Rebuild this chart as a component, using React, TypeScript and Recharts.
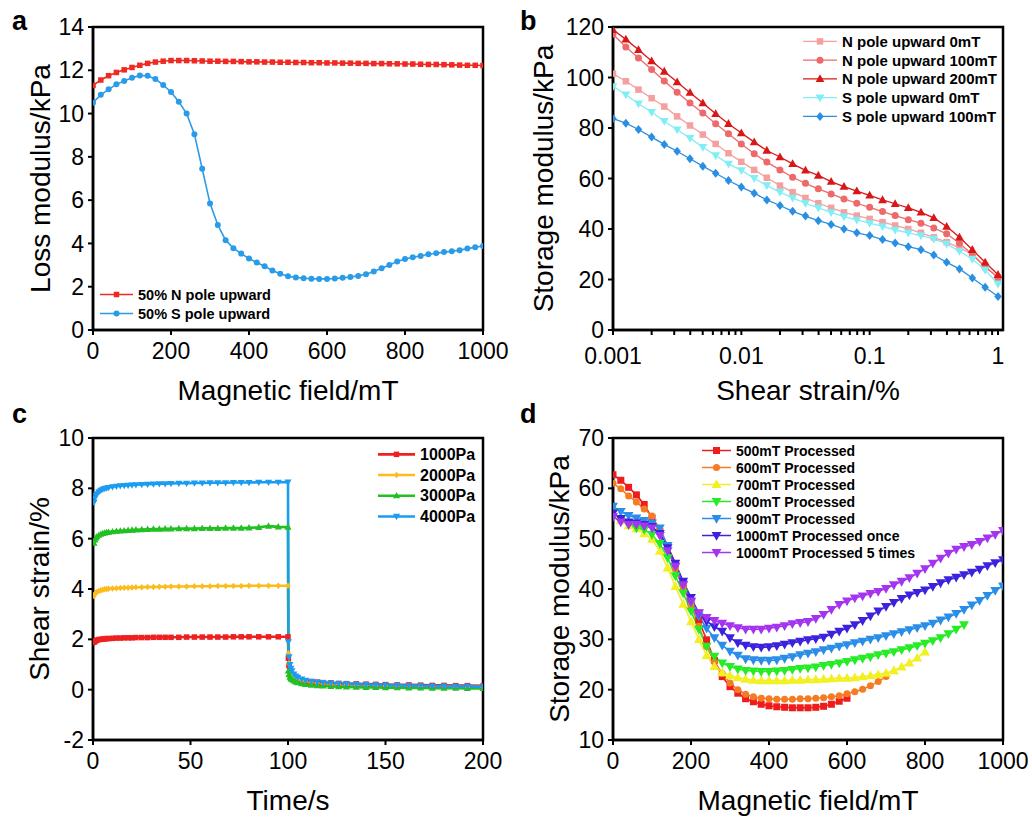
import { LineChart, Line, XAxis, YAxis, ReferenceArea, Legend } from 'recharts'

const FONT = '"Liberation Sans", Arial, Helvetica, sans-serif'

// ---------- a: loss modulus vs magnetic field ----------
const FIELD = [
  0, 20, 40, 60, 80, 100, 120, 140, 160, 180, 200, 220, 240, 260, 280, 300, 320, 340, 360, 380, 400,
  420, 440, 460, 480, 500, 520, 540, 560, 580, 600, 620, 640, 660, 680, 700, 720, 740, 760, 780, 800,
  820, 840, 860, 880, 900, 920, 940, 960, 980, 1000,
]
const LOSS_N_UP = [
  11.3, 11.55, 11.75, 11.9, 12.02, 12.13, 12.23, 12.32, 12.38, 12.42, 12.45, 12.45, 12.45, 12.44,
  12.43, 12.42, 12.42, 12.41, 12.41, 12.4, 12.39, 12.39, 12.38, 12.38, 12.37, 12.37, 12.36, 12.36,
  12.35, 12.35, 12.34, 12.34, 12.33, 12.33, 12.32, 12.32, 12.31, 12.31, 12.3, 12.3, 12.29, 12.29,
  12.28, 12.27, 12.27, 12.26, 12.25, 12.24, 12.23, 12.23, 12.22,
]
const LOSS_S_UP = [
  10.5, 10.87, 11.12, 11.35, 11.5, 11.65, 11.76, 11.75, 11.6, 11.32, 11.0, 10.55, 10.0, 9.05, 7.45,
  5.85, 4.85, 4.15, 3.78, 3.53, 3.3, 3.12, 2.95, 2.75, 2.6, 2.48, 2.43, 2.39, 2.37, 2.36, 2.36, 2.38,
  2.41, 2.45, 2.5, 2.58, 2.7, 2.85, 3.0, 3.17, 3.28, 3.36, 3.42, 3.5, 3.55, 3.6, 3.64, 3.69, 3.76,
  3.82, 3.88,
]

// ---------- b: storage modulus vs shear strain (log) ----------
const STRAIN = [
  0.001, 0.00126, 0.00158, 0.002, 0.00251, 0.00316, 0.00398, 0.00501, 0.00631, 0.00794, 0.01, 0.0126,
  0.0158, 0.02, 0.0251, 0.0316, 0.0398, 0.0501, 0.0631, 0.0794, 0.1, 0.126, 0.158, 0.2, 0.251, 0.316,
  0.398, 0.501, 0.631, 0.794, 1.0,
]
const G_N_0 = [
  101.5, 98.5, 95.2, 91.8, 88.5, 84.6, 81.0, 77.4, 73.7, 70.0, 66.6, 63.4, 60.3, 57.2, 54.6, 52.3,
  50.2, 48.4, 46.6, 45.3, 44.0, 42.7, 41.4, 40.0, 38.5, 36.7, 34.8, 32.5, 29.9, 25.5, 20.6,
]
const G_N_100 = [
  117.1, 112.1, 107.7, 103.2, 98.6, 94.2, 89.9, 85.9, 81.7, 77.7, 73.7, 69.8, 66.5, 63.4, 60.5, 58.1,
  55.9, 53.9, 51.9, 50.2, 48.6, 46.9, 45.3, 43.7, 42.3, 40.4, 38.1, 34.4, 29.9, 24.8, 20.9,
]
const G_N_200 = [
  118.9, 115.1, 111.0, 106.5, 102.4, 98.2, 94.0, 89.9, 85.6, 81.7, 78.0, 74.4, 71.1, 68.5, 65.8, 63.2,
  61.2, 58.8, 56.8, 55.0, 53.3, 51.5, 50.0, 48.4, 46.6, 44.4, 41.0, 36.7, 31.8, 26.8, 21.9,
]
const G_S_0 = [
  96.5, 93.2, 89.6, 86.3, 82.7, 79.3, 76.0, 72.4, 69.1, 65.8, 63.2, 60.1, 57.2, 54.6, 52.3, 50.2, 48.4,
  46.6, 44.9, 43.6, 42.3, 41.0, 39.6, 38.5, 37.4, 36.1, 34.1, 31.2, 28.1, 23.8, 18.2,
]
const G_S_100 = [
  83.7, 81.9, 79.4, 76.4, 73.5, 70.8, 67.8, 64.9, 62.1, 59.2, 56.6, 54.2, 51.5, 49.3, 47.0, 45.1, 43.3,
  41.8, 40.0, 38.5, 37.4, 35.8, 34.5, 33.0, 31.8, 29.7, 26.8, 24.2, 20.6, 16.9, 13.3,
]
const STRAIN_TICKS = [
  0.001, 0.002, 0.003, 0.004, 0.005, 0.006, 0.007, 0.008, 0.009, 0.01, 0.02, 0.03, 0.04, 0.05, 0.06,
  0.07, 0.08, 0.09, 0.1, 0.2, 0.3, 0.4, 0.5, 0.6, 0.7, 0.8, 0.9, 1,
]
const STRAIN_LABELS = ['0.001', '0.01', '0.1', '1']

// ---------- c: creep / recovery ----------
const TIME = [
  0.5, 1, 1.5, 2, 3, 4, 5, 6, 7, 8, 10, 12, 14, 16, 18, 20, 22, 25, 28, 31, 34, 37, 40, 44, 48, 52,
  56, 60, 64, 68, 72, 76, 80, 85, 90, 95, 100, 100.2, 100.5, 101, 101.5, 102, 103, 104, 105, 107, 109,
  112, 115, 118, 122, 126, 130, 135, 140, 145, 150, 156, 162, 168, 174, 180, 186, 192, 200,
]
const CREEP_1000 = [
  1.88, 1.92, 1.95, 1.97, 1.99, 2.0, 2.01, 2.02, 2.03, 2.03, 2.04, 2.05, 2.05, 2.06, 2.06, 2.06, 2.07,
  2.07, 2.07, 2.08, 2.08, 2.08, 2.08, 2.08, 2.09, 2.09, 2.09, 2.09, 2.09, 2.09, 2.1, 2.1, 2.1, 2.1,
  2.1, 2.1, 2.1,
  1.25, 0.95, 0.78, 0.68, 0.6, 0.52, 0.47, 0.43, 0.38, 0.35, 0.32, 0.3, 0.28, 0.27, 0.25, 0.24, 0.23,
  0.22, 0.21, 0.2, 0.19, 0.19, 0.18, 0.17, 0.17, 0.16, 0.16, 0.15,
]
const CREEP_2000 = [
  3.72, 3.8, 3.85, 3.88, 3.92, 3.95, 3.97, 3.99, 4.0, 4.01, 4.02, 4.03, 4.04, 4.05, 4.05, 4.06, 4.07,
  4.07, 4.08, 4.08, 4.09, 4.09, 4.1, 4.1, 4.1, 4.11, 4.11, 4.11, 4.12, 4.12, 4.12, 4.12, 4.13, 4.13,
  4.13, 4.13, 4.13,
  1.45, 1.05, 0.82, 0.7, 0.62, 0.53, 0.47, 0.43, 0.37, 0.33, 0.29, 0.26, 0.24, 0.22, 0.21, 0.2, 0.18,
  0.17, 0.16, 0.15, 0.14, 0.14, 0.13, 0.12, 0.12, 0.11, 0.11, 0.1,
]
const CREEP_3000 = [
  5.82, 5.95, 6.03, 6.08, 6.14, 6.18, 6.21, 6.23, 6.25, 6.26, 6.28, 6.3, 6.31, 6.32, 6.33, 6.34, 6.35,
  6.36, 6.37, 6.38, 6.38, 6.39, 6.39, 6.4, 6.4, 6.4, 6.41, 6.41, 6.41, 6.42, 6.42, 6.42, 6.43, 6.45,
  6.5, 6.47, 6.46,
  0.75, 0.6, 0.5, 0.44, 0.4, 0.35, 0.31, 0.28, 0.24, 0.21, 0.18, 0.16, 0.15, 0.13, 0.12, 0.11, 0.1,
  0.09, 0.09, 0.08, 0.08, 0.07, 0.07, 0.06, 0.06, 0.06, 0.05, 0.05,
]
const CREEP_4000 = [
  7.45, 7.62, 7.72, 7.78, 7.86, 7.92, 7.96, 7.99, 8.01, 8.03, 8.06, 8.08, 8.1, 8.11, 8.12, 8.13, 8.14,
  8.15, 8.16, 8.17, 8.18, 8.18, 8.19, 8.2, 8.2, 8.21, 8.21, 8.22, 8.22, 8.22, 8.23, 8.23, 8.23, 8.24,
  8.24, 8.24, 8.25,
  1.9, 1.3, 1.0, 0.85, 0.75, 0.62, 0.54, 0.49, 0.42, 0.37, 0.33, 0.3, 0.28, 0.26, 0.24, 0.23, 0.21,
  0.2, 0.19, 0.18, 0.17, 0.16, 0.15, 0.14, 0.14, 0.13, 0.13, 0.12,
]

// ---------- d: storage modulus after processing ----------
const G_500 = [
  62.7, 61.6, 60.2, 58.7, 56.8, 54.1, 51.5, 48.6, 45.0, 41.2, 37.5, 33.8, 29.9, 25.8, 22.6, 20.6, 19.3,
  18.2, 17.6, 17.1, 16.8, 16.6, 16.5, 16.4, 16.4, 16.4, 16.5, 16.7, 17.1, 17.7, 18.3,
]
const G_600 = [
  61.0, 59.9, 58.5, 57.3, 55.9, 54.5, 51.8, 48.0, 44.0, 40.2, 36.8, 32.6, 28.6, 25.5, 23.2, 21.3, 20.0,
  19.1, 18.6, 18.3, 18.2, 18.1, 18.1, 18.1, 18.2, 18.2, 18.3, 18.4, 18.6, 18.8, 19.2, 19.6, 20.1, 20.8,
  21.6, 22.6,
]
const G_700 = [
  55.0, 53.6, 52.6, 52.0, 51.0, 49.9, 47.5, 44.2, 40.5, 37.0, 33.5, 30.0, 26.8, 24.6, 23.4, 22.8, 22.4,
  22.1, 21.9, 21.8, 21.8, 21.8, 21.8, 21.9, 21.9, 22.0, 22.0, 22.1, 22.2, 22.3, 22.3, 22.4, 22.6, 22.8,
  23.0, 23.3, 23.8, 24.5, 25.3, 26.3, 27.5,
]
const G_800 = [
  55.2, 53.8, 52.8, 52.1, 51.8, 50.8, 49.0, 46.2, 42.6, 39.2, 35.6, 32.0, 28.6, 26.6, 25.3, 24.6, 24.1,
  23.8, 23.7, 23.6, 23.6, 23.7, 23.8, 24.0, 24.2, 24.3, 24.5, 24.8, 25.0, 25.3, 25.6, 25.9, 26.2, 26.5,
  26.9, 27.2, 27.5, 27.9, 28.3, 28.7, 29.2, 29.7, 30.3, 31.1, 32.0, 32.9,
]
const G_900 = [
  56.4, 55.4, 54.6, 54.1, 53.6, 53.1, 52.1, 48.6, 44.5, 40.9, 37.4, 34.6, 32.2, 30.3, 28.8, 27.6, 26.8,
  26.1, 25.9, 25.8, 25.8, 25.9, 26.2, 26.5, 26.9, 27.2, 27.5, 27.9, 28.2, 28.6, 28.9, 29.3, 29.6, 30.0,
  30.3, 30.7, 31.1, 31.5, 31.9, 32.3, 32.7, 33.2, 33.8, 34.4, 35.1, 35.9, 36.8, 37.7, 38.7, 39.7, 40.6,
]
const G_1000_ONCE = [
  55.1, 54.0, 53.3, 53.1, 52.8, 52.4, 51.0, 48.2, 45.1, 41.5, 38.3, 35.2, 33.6, 32.5, 31.6, 30.3, 29.3,
  28.8, 28.5, 28.4, 28.5, 28.7, 29.0, 29.3, 29.6, 29.9, 30.1, 30.4, 31.0, 31.6, 32.2, 32.9, 33.7, 34.6,
  35.6, 36.5, 37.3, 38.1, 38.8, 39.3, 39.8, 40.5, 41.2, 41.8, 42.3, 42.8, 43.3, 43.9, 44.6, 45.2, 45.8,
]
const G_1000_5X = [
  54.4, 53.3, 52.8, 52.8, 52.5, 52.1, 50.6, 47.6, 44.5, 40.8, 37.6, 35.2, 34.3, 33.7, 33.2, 32.7, 32.3,
  32.0, 32.0, 32.0, 32.2, 32.4, 32.7, 33.1, 33.3, 33.5, 34.1, 34.9, 35.9, 36.9, 37.6, 38.2, 38.6, 39.1,
  39.5, 40.1, 40.8, 41.5, 42.2, 43.1, 44.0, 45.1, 46.1, 47.1, 47.9, 48.4, 48.8, 49.4, 50.1, 50.8, 51.6,
]

type Shape = 'square' | 'circle' | 'triangle' | 'triangleDown' | 'diamond'

interface Series {
  key: string
  name: string
  values: number[]
  color: string
  shape: Shape
  size: number
  width: number
}

interface LegendCfg {
  left: number
  top: number
  lineLen: number
  rowH: number
  fontSize: number
  lineWidth: number
}

function Marker({ cx, cy, shape, size, fill }: { cx: any; cy: any; shape: Shape; size: number; fill: string }) {
  if (cx == null || cy == null || Number.isNaN(cx) || Number.isNaN(cy)) return null
  const h = size / 2
  if (shape === 'square') return <rect x={cx - h} y={cy - h} width={size} height={size} fill={fill} />
  if (shape === 'circle') return <circle cx={cx} cy={cy} r={h} fill={fill} />
  if (shape === 'diamond')
    return <polygon points={`${cx},${cy - h * 1.2} ${cx + h},${cy} ${cx},${cy + h * 1.2} ${cx - h},${cy}`} fill={fill} />
  if (shape === 'triangle')
    return (
      <polygon points={`${cx},${cy - h * 1.15} ${cx + h * 1.1},${cy + h * 0.8} ${cx - h * 1.1},${cy + h * 0.8}`} fill={fill} />
    )
  return <polygon points={`${cx},${cy + h * 1.15} ${cx + h * 1.1},${cy - h * 0.8} ${cx - h * 1.1},${cy - h * 0.8}`} fill={fill} />
}

const makeDot = (s: Series) => (p: any) => (
  <Marker key={`${s.key}-${p.index}`} cx={p.cx} cy={p.cy} shape={s.shape} size={s.size} fill={s.color} />
)

function LegendBox({ items, cfg }: { items: Series[]; cfg: LegendCfg }) {
  return (
    <svg width={260} height={cfg.rowH * items.length} style={{ display: 'block', overflow: 'visible' }}>
      {items.map((it, i) => {
        const y = cfg.rowH * i + cfg.rowH / 2
        return (
          <g key={it.key}>
            <line x1={0} x2={cfg.lineLen} y1={y} y2={y} stroke={it.color} strokeWidth={cfg.lineWidth} />
            <Marker cx={cfg.lineLen / 2} cy={y} shape={it.shape} size={it.size} fill={it.color} />
            <text
              x={cfg.lineLen + 5}
              y={y}
              dominantBaseline="central"
              fontSize={cfg.fontSize}
              fontWeight="bold"
              fontFamily={FONT}
              fill="#000"
            >
              {it.name}
            </text>
          </g>
        )
      })}
    </svg>
  )
}

function buildRows(xs: number[], series: Series[]) {
  return xs.map((x, i) => {
    const row: Record<string, number> = { x }
    series.forEach((s) => {
      if (i < s.values.length) row[s.key] = s.values[i]
    })
    return row
  })
}

interface PanelProps {
  letter: string
  left: number
  top: number
  letterLeft: number
  letterTop: number
  marginTop: number
  xs: number[]
  series: Series[]
  xDomain: [number, number]
  xTicks: number[]
  xScale?: 'linear' | 'log'
  xFormat?: (v: number) => string
  xTickMargin?: number
  yDomain: [number, number]
  yTicks: number[]
  xLabel: string
  yLabel: string
  yLabelX: number
  legend: LegendCfg
}

function Panel(p: PanelProps) {
  const data = buildRows(p.xs, p.series)
  return (
    <div style={{ position: 'absolute', left: p.left, top: p.top, width: 520, height: 410 }}>
      <LineChart width={520} height={410} data={data} margin={{ top: p.marginTop, right: 37, bottom: 0, left: 0 }}>
        <XAxis
          dataKey="x"
          type="number"
          scale={p.xScale ?? 'linear'}
          domain={p.xDomain}
          ticks={p.xTicks}
          interval={0}
          allowDataOverflow
          tickFormatter={p.xFormat}
          height={80}
          tickSize={5}
          tickMargin={p.xTickMargin ?? 8}
          axisLine={{ stroke: '#000', strokeWidth: 2.5 }}
          tickLine={{ stroke: '#000', strokeWidth: 2 }}
          tick={{ fill: '#000', fontSize: 23 }}
          label={{ value: p.xLabel, position: 'insideBottom', offset: 10, fontSize: 28, fill: '#000' }}
        />
        <YAxis
          type="number"
          domain={p.yDomain}
          ticks={p.yTicks}
          interval={0}
          allowDataOverflow
          width={93}
          tickSize={5}
          tickMargin={4}
          axisLine={{ stroke: '#000', strokeWidth: 2.5 }}
          tickLine={{ stroke: '#000', strokeWidth: 2 }}
          tick={{ fill: '#000', fontSize: 23 }}
          label={{
            value: p.yLabel,
            angle: -90,
            position: 'insideLeft',
            offset: p.yLabelX,
            fontSize: 28,
            fill: '#000',
            style: { textAnchor: 'middle' },
          }}
        />
        <ReferenceArea
          x1={p.xDomain[0]}
          x2={p.xDomain[1]}
          y1={p.yDomain[0]}
          y2={p.yDomain[1]}
          fill="none"
          stroke="#000"
          strokeWidth={2.5}
          ifOverflow="visible"
        />
        {p.series.map((s) => (
          <Line
            key={s.key}
            dataKey={s.key}
            type="linear"
            stroke={s.color}
            strokeWidth={s.width}
            dot={makeDot(s)}
            activeDot={false}
            isAnimationActive={false}
          />
        ))}
        <Legend
          layout="horizontal"
          verticalAlign="middle"
          align="center"
          wrapperStyle={{ left: p.legend.left, top: p.legend.top, width: 260, height: 'auto' }}
          content={() => <LegendBox items={p.series} cfg={p.legend} />}
        />
      </LineChart>
      <div
        style={{
          position: 'absolute',
          left: p.letterLeft,
          top: p.letterTop,
          fontSize: 27,
          lineHeight: '27px',
          fontWeight: 'bold',
          color: '#000',
        }}
      >
        {p.letter}
      </div>
    </div>
  )
}

const seriesA: Series[] = [
  { key: 'n', name: '50% N pole upward', values: LOSS_N_UP, color: '#ee2a22', shape: 'square', size: 5.5, width: 1.6 },
  { key: 's', name: '50% S pole upward', values: LOSS_S_UP, color: '#2a9be8', shape: 'circle', size: 6, width: 1.6 },
]

const seriesB: Series[] = [
  { key: 'n0', name: 'N pole upward 0mT', values: G_N_0, color: '#f5a0a0', shape: 'square', size: 6.5, width: 1.3 },
  { key: 'n100', name: 'N pole upward 100mT', values: G_N_100, color: '#ee6a6a', shape: 'circle', size: 7, width: 1.3 },
  { key: 'n200', name: 'N pole upward 200mT', values: G_N_200, color: '#d81818', shape: 'triangle', size: 8, width: 1.3 },
  { key: 's0', name: 'S pole upward 0mT', values: G_S_0, color: '#80eef5', shape: 'triangleDown', size: 8, width: 1.3 },
  { key: 's100', name: 'S pole upward 100mT', values: G_S_100, color: '#2a8fe2', shape: 'diamond', size: 7.5, width: 1.3 },
]

const seriesC: Series[] = [
  { key: 'p1', name: '1000Pa', values: CREEP_1000, color: '#ee2020', shape: 'square', size: 5.5, width: 2.6 },
  { key: 'p2', name: '2000Pa', values: CREEP_2000, color: '#fbbc1c', shape: 'diamond', size: 5.5, width: 2.6 },
  { key: 'p3', name: '3000Pa', values: CREEP_3000, color: '#22c022', shape: 'triangle', size: 6.5, width: 2.6 },
  { key: 'p4', name: '4000Pa', values: CREEP_4000, color: '#1a9cf0', shape: 'triangleDown', size: 6.5, width: 2.6 },
]

const seriesD: Series[] = [
  { key: 'm500', name: '500mT Processed', values: G_500, color: '#ee1c1c', shape: 'square', size: 7, width: 1.6 },
  { key: 'm600', name: '600mT Processed', values: G_600, color: '#f57c22', shape: 'circle', size: 7, width: 1.6 },
  { key: 'm700', name: '700mT Processed', values: G_700, color: '#f2ef22', shape: 'triangle', size: 9, width: 1.6 },
  { key: 'm800', name: '800mT Processed', values: G_800, color: '#26ec26', shape: 'triangleDown', size: 9, width: 1.6 },
  { key: 'm900', name: '900mT Processed', values: G_900, color: '#2a8ee8', shape: 'triangleDown', size: 9, width: 1.6 },
  { key: 'm1000', name: '1000mT Processed once', values: G_1000_ONCE, color: '#3c22dc', shape: 'triangleDown', size: 9, width: 1.6 },
  { key: 'm1000x5', name: '1000mT Processed 5 times', values: G_1000_5X, color: '#a534f0', shape: 'triangleDown', size: 9, width: 1.6 },
]

export default function App() {
  return (
    <div
      style={{
        position: 'absolute',
        left: 0,
        top: 0,
        width: 1032,
        height: 818,
        background: '#fff',
        overflow: 'hidden',
        fontFamily: FONT,
      }}
    >
      <Panel
        letter="a"
        left={0}
        top={0}
        letterLeft={12}
        letterTop={8}
        marginTop={27}
        xs={FIELD}
        series={seriesA}
        xDomain={[0, 1000]}
        xTicks={[0, 200, 400, 600, 800, 1000]}
        yDomain={[0, 14]}
        yTicks={[0, 2, 4, 6, 8, 10, 12, 14]}
        xLabel="Magnetic field/mT"
        yLabel="Loss modulus/kPa"
        yLabelX={40}
        legend={{ left: 100, top: 284.5, lineLen: 33, rowH: 19, fontSize: 14.5, lineWidth: 1.6 }}
      />
      <Panel
        letter="b"
        left={520}
        top={0}
        letterLeft={0}
        letterTop={8}
        marginTop={27}
        xs={STRAIN}
        series={seriesB}
        xDomain={[0.001, 1.094]}
        xTicks={STRAIN_TICKS}
        xScale="log"
        xTickMargin={13}
        xFormat={(v: number) => {
          const s = String(v)
          return STRAIN_LABELS.includes(s) ? s : ''
        }}
        yDomain={[0, 120]}
        yTicks={[0, 20, 40, 60, 80, 100, 120]}
        xLabel="Shear strain/%"
        yLabel="Storage modulus/kPa"
        yLabelX={23}
        legend={{ left: 283, top: 32.3, lineLen: 34, rowH: 18.75, fontSize: 15, lineWidth: 1.3 }}
      />
      <Panel
        letter="c"
        left={0}
        top={410}
        letterLeft={12}
        letterTop={-9}
        marginTop={28}
        xs={TIME}
        series={seriesC}
        xDomain={[0, 200]}
        xTicks={[0, 50, 100, 150, 200]}
        yDomain={[-2, 10]}
        yTicks={[-2, 0, 2, 4, 6, 8, 10]}
        xLabel="Time/s"
        yLabel="Shear strain/%"
        yLabelX={39}
        legend={{ left: 378, top: 33.7, lineLen: 37, rowH: 20.7, fontSize: 16, lineWidth: 2.6 }}
      />
      <Panel
        letter="d"
        left={520}
        top={410}
        letterLeft={0}
        letterTop={-9}
        marginTop={28}
        xs={FIELD}
        series={seriesD}
        xDomain={[0, 1000]}
        xTicks={[0, 200, 400, 600, 800, 1000]}
        yDomain={[10, 70]}
        yTicks={[10, 20, 30, 40, 50, 60, 70]}
        xLabel="Magnetic field/mT"
        yLabel="Storage modulus/kPa"
        yLabelX={39}
        legend={{ left: 182, top: 31.5, lineLen: 29, rowH: 17, fontSize: 14, lineWidth: 1.5 }}
      />
    </div>
  )
}
